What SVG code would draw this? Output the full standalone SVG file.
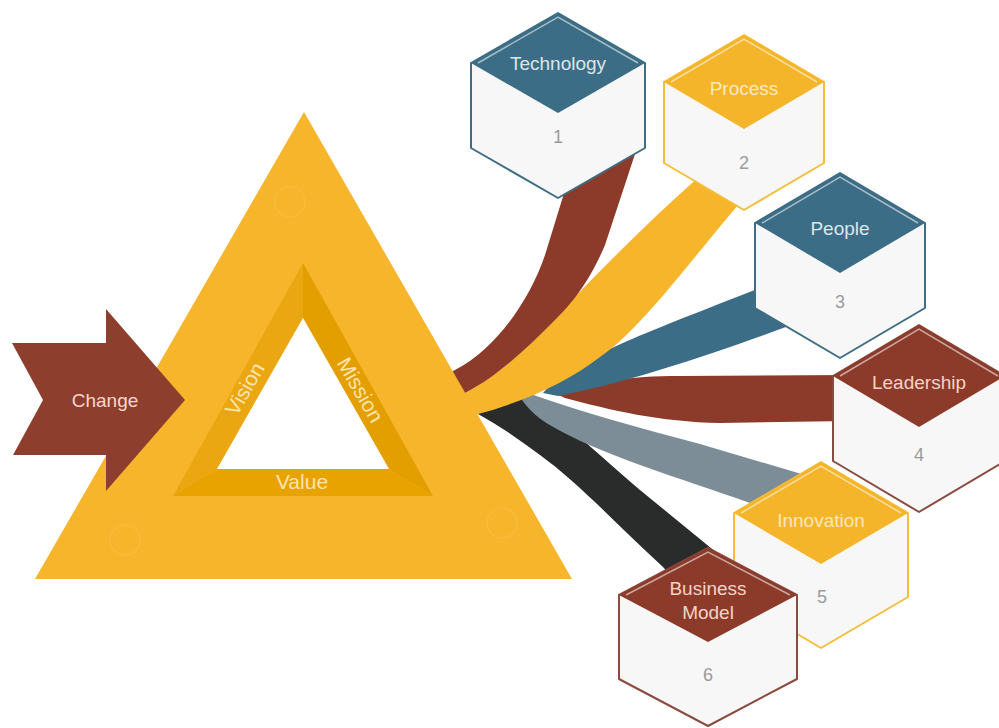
<svg xmlns="http://www.w3.org/2000/svg" width="999" height="728" viewBox="0 0 999 728">
<style>
.lbl{font-family:"Liberation Sans",Arial,sans-serif;font-size:19px;text-anchor:middle}
.num{font-family:"Liberation Sans",Arial,sans-serif;font-size:18px;text-anchor:middle;fill:#9b9b9b}
.body{fill:#f7f7f7;stroke-width:2;stroke-linejoin:round}
.hl{fill:none;stroke:#ffffff;stroke-opacity:0.55;stroke-width:1.5}
.tri{font-family:"Liberation Sans",Arial,sans-serif;font-size:21px;text-anchor:middle;fill:#fbe4ad}
.ring{fill:none;stroke:#fac450;stroke-width:1.2;stroke-opacity:0.5}
</style>
<rect width="999" height="728" fill="#ffffff"/>
<g id="connectors">
  <path id="rib-business" fill="#2a2c2b" d="M465,408 L533,397 C560,420 600,455 640,490 L728,562 L682,588 L663,567 C620,528 580,484 540,455 C520,440 500,426 478,414 Z"/>
  <path id="rib-innovation" fill="#7c8d97" d="M525,392 C580,412 640,428 700,444 L815,478 L770,518 L750,503 C680,478 600,455 548,424 C535,416 528,408 522,400 Z"/>
  <path id="rib-leadership" fill="#8c3b2a" d="M552,392 C590,382 630,376 680,376 L850,375 L850,421 L720,423 C660,422 610,410 565,398 Z"/>
  <path id="rib-people" fill="#3c6d86" d="M543,393 C575,358 640,335 760,288 L795,282 L800,322 L783,328 C720,352 620,385 558,396 Z"/>
  <path id="rib-process" fill="#f7b52b" d="M700,176 L739,204 C686,266 640,330 600,357 C570,380 530,400 478,414 L440,420 L440,380 L465,393 C500,375 530,345 555,318 C600,270 650,220 700,176 Z"/>
  <path id="rib-technology" fill="#8c3b2a" d="M440,378 L455,370 C495,350 530,300 545,255 L565,190 L637,148 L605,245 C590,280 575,300 555,320 C530,345 500,375 465,393 L440,400 Z"/>
</g>
<g id="triangle">
  <polygon points="304,112 572,579 35,579" fill="#f7b52b"/>
  <circle class="ring" cx="290" cy="202" r="15"/>
  <circle class="ring" cx="125" cy="540" r="15"/>
  <circle class="ring" cx="502" cy="523" r="15"/>
  <polygon points="303,263 303,318 217,469 173,496" fill="#eaa712"/>
  <polygon points="303,263 433,496 389,469 303,318" fill="#e39f00"/>
  <polygon points="173,496 217,469 389,469 433,496" fill="#e8a300"/>
  <polygon points="303,318 389,469 217,469" fill="#ffffff"/>
  <text class="tri" transform="translate(245,389) rotate(-60)" y="7">Vision</text>
  <text class="tri" transform="translate(360,390) rotate(60)" y="7">Mission</text>
  <text class="tri" x="302" y="489">Value</text>
</g>
<g id="change">
  <polygon points="12,343 106,343 106,309 185,400 106,491 106,455 13,455 43,400" fill="#8e3e2d"/>
  <text class="lbl" x="105" y="407" fill="#f6d6cb">Change</text>
</g>
<g id="node-technology">
  <polygon class="body" stroke="#3f6e84" points="558,13 645,63 645,148 558,198 471,148 471,63"/>
  <polygon fill="#3c6d86" points="558,13 645,63 558,113 471,63"/>
  <polyline class="hl" points="478,63 558,17 638,63"/>
  <text class="lbl" x="558" y="70" fill="#dbe6ec">Technology</text>
  <text class="num" x="558" y="143">1</text>
</g>
<g id="node-process">
  <polygon class="body" stroke="#f3be3c" points="744,35 824,82 824,163 744,210 664,163 664,82"/>
  <polygon fill="#f5b52b" points="744,35 824,82 744,129 664,82"/>
  <polyline class="hl" points="671,82 744,39 817,82"/>
  <text class="lbl" x="744" y="95" fill="#fbe8bf">Process</text>
  <text class="num" x="744" y="169">2</text>
</g>
<g id="node-people">
  <polygon class="body" stroke="#3f6e84" points="840,173 925,223 925,308 840,358 755,308 755,223"/>
  <polygon fill="#3c6d86" points="840,173 925,223 840,273 755,223"/>
  <polyline class="hl" points="762,223 840,177 918,223"/>
  <text class="lbl" x="840" y="235" fill="#dbe6ec">People</text>
  <text class="num" x="840" y="308">3</text>
</g>
<g id="node-leadership">
  <polygon class="body" stroke="#8b4a3f" points="919,325 1005,376 1005,461 919,512 833,461 833,376"/>
  <polygon fill="#8c3b2a" points="919,325 1005,376 919,427 833,376"/>
  <polyline class="hl" points="840,376 919,329 998,376"/>
  <text class="lbl" x="919" y="389" fill="#f5d3c8">Leadership</text>
  <text class="num" x="919" y="461">4</text>
</g>
<g id="node-innovation">
  <polygon class="body" stroke="#f3be3c" points="821,462 908,513 908,597 821,648 734,597 734,513"/>
  <polygon fill="#f5b52b" points="821,462 908,513 821,564 734,513"/>
  <polyline class="hl" points="741,513 821,466 901,513"/>
  <text class="lbl" x="821" y="527" fill="#fbe6b5">Innovation</text>
  <text class="num" x="822" y="603">5</text>
</g>
<g id="node-business-model">
  <polygon class="body" stroke="#8b4a3f" points="708,548 797,595 797,679 708,726 619,679 619,595"/>
  <polygon fill="#8c3b2a" points="708,548 797,595 708,642 619,595"/>
  <polyline class="hl" points="626,595 708,552 790,595"/>
  <text class="lbl" x="708" y="595" fill="#f5d3c8">Business</text>
  <text class="lbl" x="708" y="619" fill="#f5d3c8">Model</text>
  <text class="num" x="708" y="681">6</text>
</g>
</svg>
